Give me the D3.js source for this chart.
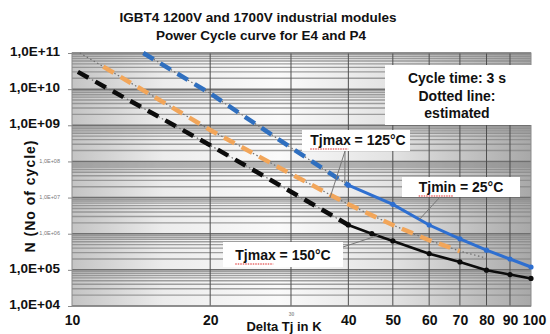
<!DOCTYPE html>
<html>
<head>
<meta charset="utf-8">
<script src="https://cdn.jsdelivr.net/npm/d3@7/dist/d3.min.js"></script>
<style>
  body { margin: 0; background: #fff; }
  svg { display: block; font-family: "Liberation Sans", Arial, sans-serif; font-weight: bold; }
</style>
</head>
<body>
<svg id="chart" width="550" height="334"></svg>
<script>
// axis values
const xTicks = [10, 20, 30, 40, 50, 60, 70, 80, 90, 100];
const yTicks = [1e4, 1e5, 1e6, 1e7, 1e8, 1e9, 1e10, 1e11];
const yTickLabels = ['1,0E+04', '1,0E+05', '1,0E+06', '1,0E+07', '1,0E+08', '1,0E+09', '1,0E+10', '1,0E+11'];
const ySmallTicks = [1e6, 1e7, 1e8];

// Tjmax = 150°C (black)
const blackEstT = [10.3, 20, 30, 40];
const blackEstN = [3.0e10, 2.8e8, 1.45e7, 1.75e6];
const blackT = [40, 45, 50, 60, 70, 80, 90, 100];
const blackN = [1.75e6, 1.0e6, 6.3e5, 2.8e5, 1.66e5, 9.8e4, 7.4e4, 5.8e4];

// Tjmax = 125°C (blue)
const blueEstT = [14.3, 20, 30, 40];
const blueEstN = [1e11, 7.6e9, 2.4e8, 2.2e7];
const blueT = [40, 50, 60, 70, 80, 90, 100];
const blueN = [2.2e7, 6.5e6, 1.74e6, 7.2e5, 3.5e5, 2.0e5, 1.2e5];

// Tjmin = 25°C (orange), all estimated
const orangeT = [10.4, 11.7, 20, 30, 40, 50, 60, 70, 80];
const orangeN = [1e11, 4.2e10, 7.4e8, 4.5e7, 6.5e6, 1.74e6, 6.6e5, 3.3e5, 2.1e5];

const svg = d3.select('#chart');
const plotL = 72, plotR = 531, plotT = 53, plotB = 306;

const x = d3.scaleLog().domain([10, 100]).range([plotL, plotR]);
const y = d3.scaleLog().domain([1e4, 1e11]).range([plotB, plotT]);

// background gradient of the plot area
const grad = svg.append('defs').append('linearGradient')
  .attr('id', 'bg').attr('x1', 0).attr('x2', 1).attr('y1', 0).attr('y2', 0);
[[0, '#c4c4c4'], [0.2, '#ececec'], [0.45, '#fafafa'], [0.7, '#e2e2e2'], [1, '#a8a8a8']]
  .forEach(s => grad.append('stop').attr('offset', s[0]).attr('stop-color', s[1]));

svg.append('rect')
  .attr('x', plotL).attr('y', plotT)
  .attr('width', plotR - plotL).attr('height', plotB - plotT)
  .attr('fill', 'url(#bg)');

// minor horizontal grid
const minor = [];
for (let e = 4; e < 11; e++) {
  for (let m = 2; m < 10; m++) minor.push(m * Math.pow(10, e));
}
svg.append('g').selectAll('line').data(minor).join('line')
  .attr('x1', plotL).attr('x2', plotR)
  .attr('y1', d => y(d)).attr('y2', d => y(d))
  .attr('stroke', '#8a8a8a').attr('stroke-width', 1.4).attr('opacity', 0.8);

// major horizontal grid
svg.append('g').selectAll('line').data(yTicks).join('line')
  .attr('x1', plotL).attr('x2', plotR)
  .attr('y1', d => y(d)).attr('y2', d => y(d))
  .attr('stroke', '#707070').attr('stroke-width', 1.5);

// vertical grid
svg.append('g').selectAll('line').data(xTicks.slice(1, -1)).join('line')
  .attr('x1', d => x(d)).attr('x2', d => x(d))
  .attr('y1', plotT).attr('y2', plotB)
  .attr('stroke', '#4e4e4e').attr('stroke-width', 1);

svg.append('rect')
  .attr('x', plotL).attr('y', plotT)
  .attr('width', plotR - plotL).attr('height', plotB - plotT)
  .attr('fill', 'none').attr('stroke', '#8a8a8a');

// y axis
const yAxis = svg.append('g')
  .attr('transform', `translate(${plotL},0)`)
  .call(d3.axisLeft(y).tickValues(yTicks).tickSize(4).tickPadding(8)
    .tickFormat((d, i) => yTickLabels[i]));
yAxis.select('.domain').remove();
yAxis.selectAll('line').attr('stroke', '#888');
yAxis.selectAll('text')
  .attr('dy', '0.2em')
  .style('font-size', d => ySmallTicks.includes(d) ? '5.5px' : '13.5px')
  .style('font-weight', d => ySmallTicks.includes(d) ? 'normal' : 'bold')
  .attr('fill', d => ySmallTicks.includes(d) ? '#777' : '#111');

// x axis
const xAxis = svg.append('g')
  .attr('transform', `translate(0,${plotB})`)
  .call(d3.axisBottom(x).tickValues(xTicks).tickSize(0).tickPadding(9)
    .tickFormat(d => d));
xAxis.select('.domain').remove();
xAxis.selectAll('text')
  .attr('fill', d => d === 30 ? '#999' : '#111')
  .style('font-size', d => d === 30 ? '5px' : '14px')
  .attr('dy', d => d === 30 ? '0.2em' : '0.71em');
xAxis.selectAll('text').filter(d => d === 100).attr('dx', '3px');

// titles
svg.append('text').attr('x', 258).attr('y', 22).attr('text-anchor', 'middle')
  .style('font-size', '13.5px').attr('fill', '#111')
  .text('IGBT4 1200V and 1700V industrial modules');
svg.append('text').attr('x', 261).attr('y', 40).attr('text-anchor', 'middle')
  .style('font-size', '13.5px').attr('fill', '#111')
  .text('Power Cycle curve for E4 and P4');
svg.append('text').attr('x', 284).attr('y', 331).attr('text-anchor', 'middle')
  .style('font-size', '13px').attr('fill', '#111')
  .text('Delta Tj in K');
svg.append('text')
  .attr('transform', 'translate(35,196) rotate(-90)')
  .attr('text-anchor', 'middle')
  .style('font-size', '14px').style('letter-spacing', '1px').attr('fill', '#111')
  .text('N (No of cycle)');

// curves
const line = d3.line().x(d => x(d[0])).y(d => y(d[1]));

function estimated(T, N, color, from, to) {
  const pts = d3.zip(T, N);
  svg.append('path').datum(pts).attr('d', line)
    .attr('fill', 'none').attr('stroke', '#6f6f6f')
    .attr('stroke-width', 1.2).attr('stroke-dasharray', '1.5,2.5');
  svg.append('path').datum(pts.slice(from, to)).attr('d', line)
    .attr('fill', 'none').attr('stroke', color)
    .attr('stroke-width', 4.5).attr('stroke-dasharray', '12,8');
}

function measured(T, N, color, w) {
  const pts = d3.zip(T, N);
  svg.append('path').datum(pts).attr('d', line)
    .attr('fill', 'none').attr('stroke', color).attr('stroke-width', w);
  svg.append('g').selectAll('circle').data(pts).join('circle')
    .attr('cx', d => x(d[0])).attr('cy', d => y(d[1]))
    .attr('r', 2.6).attr('fill', color);
}

estimated(orangeT, orangeN, '#f2a65a', 1, 8);
estimated(blueEstT, blueEstN, '#2f6fbf', 0, 4);
estimated(blackEstT, blackEstN, '#0c0c0c', 0, 4);
measured(blueT, blueN, '#2e6fd0', 3);
measured(blackT, blackN, '#0c0c0c', 2.6);

// leader lines
const leaders = [
  [345, 151, x(36.5), y(1.0e7)],
  [345, 151, x(39.3), y(2.5e7)],
  [440, 197, x(57), y(2.4e6)],
  [343, 247, x(46.5), y(9.0e5)]
];
svg.append('g').selectAll('line').data(leaders).join('line')
  .attr('x1', d => d[0]).attr('y1', d => d[1])
  .attr('x2', d => d[2]).attr('y2', d => d[3])
  .attr('stroke', '#777').attr('stroke-width', 1);

// label boxes
function box(x0, y0, w, h) {
  svg.append('rect').attr('x', x0).attr('y', y0).attr('width', w).attr('height', h)
    .attr('fill', '#fff');
}
function label(cx, by, txt, squiggle) {
  const t = svg.append('text').attr('x', cx).attr('y', by).attr('text-anchor', 'middle')
    .style('font-size', '14px').attr('fill', '#111').text(txt);
  if (squiggle) {
    const bb = t.node().getBBox();
    svg.append('line').attr('x1', bb.x).attr('x2', bb.x + squiggle)
      .attr('y1', by + 4).attr('y2', by + 4)
      .attr('stroke', '#d22').attr('stroke-width', 1).attr('stroke-dasharray', '1.5,1');
  }
}

box(385, 65, 147, 60);
label(457, 83, 'Cycle time: 3 s');
label(457, 101, 'Dotted line:');
label(457, 118, 'estimated');

box(302, 130, 108, 21);
label(358, 145, 'Tjmax = 125°C', 38);

box(402, 177, 118, 20);
label(461, 192, 'Tjmin = 25°C', 35);

box(223, 242, 120, 25);
label(283, 260, 'Tjmax = 150°C', 38);
</script>
</body>
</html>
